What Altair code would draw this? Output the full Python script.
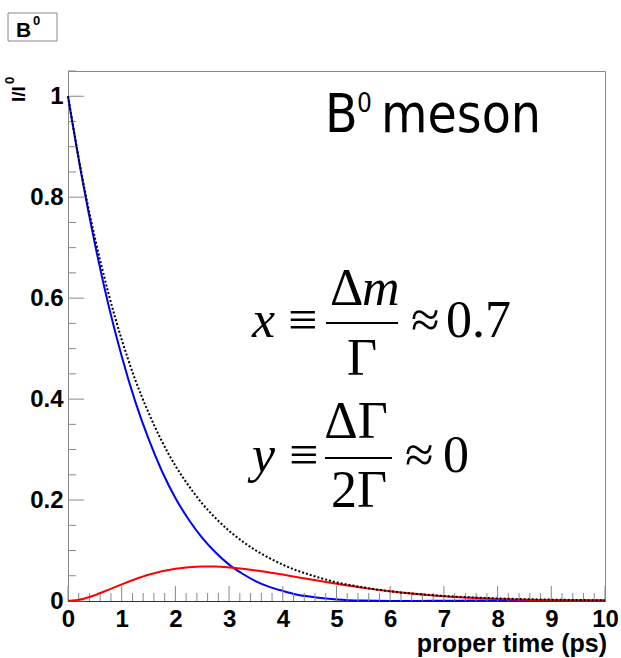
import altair as alt
import pandas as pd

# ---- data ----
t_ps = [0, 0.25, 0.5, 0.75, 1.0, 1.25, 1.5, 1.75, 2.0, 2.25, 2.5, 2.75, 3.0, 3.25,
        3.5, 3.75, 4.0, 4.25, 4.5, 4.75, 5.0, 5.5, 6.0, 6.5, 7.0, 7.5, 8.0, 8.5,
        9.0, 9.5, 10.0]
decay = [1.0, 0.848, 0.720, 0.611, 0.518, 0.439, 0.373, 0.316, 0.268, 0.228, 0.193,
         0.164, 0.139, 0.118, 0.100, 0.085, 0.072, 0.061, 0.052, 0.044, 0.037, 0.027,
         0.019, 0.014, 0.010, 0.0072, 0.0052, 0.0037, 0.0027, 0.0019, 0.0014]
unmixed = [1.0, 0.845, 0.708, 0.588, 0.485, 0.396, 0.321, 0.257, 0.204, 0.161, 0.125,
           0.096, 0.072, 0.054, 0.039, 0.028, 0.020, 0.013, 0.0087, 0.0054, 0.0032,
           0.0008, 0.0, 0.0001, 0.0005, 0.0008, 0.0011, 0.0012, 0.0012, 0.0011, 0.0010]
mixed = [0.0, 0.0034, 0.0116, 0.0221, 0.0330, 0.0431, 0.0520, 0.0589, 0.0639, 0.0671,
         0.0684, 0.0682, 0.0666, 0.0640, 0.0606, 0.0566, 0.0523, 0.0476, 0.0431, 0.0385,
         0.0341, 0.0260, 0.0193, 0.0138, 0.0095, 0.0064, 0.0041, 0.0025, 0.0015, 0.0008,
         0.0004]

x_labels = list(range(0, 11))
y_labels = [0, 0.2, 0.4, 0.6, 0.8, 1.0]
x_minor = [round(i * 0.2, 1) for i in range(51) if i % 5]
y_minor = [round(i * 0.05, 2) for i in range(22) if i % 4]

# ---- layout ----
W, H = 537, 530
L, T = 68, 71
xs = alt.Scale(domain=[0, 10], nice=False, zero=False)
ys = alt.Scale(domain=[0, 1.05], nice=False, zero=False)

df = pd.DataFrame({"t": t_ps, "decay": decay, "unmixed": unmixed, "mixed": mixed})
one = pd.DataFrame({"k": [0]})

SANS = "Liberation Sans"
SERIF = "Liberation Serif"
TICK = "#888888"

x_axis = alt.Axis(values=x_labels, format="d", labelFont=SANS, labelFontWeight="bold",
                  labelFontSize=24, labelColor="black", labelPadding=6, labelFlush=False,
                  ticks=False, tickSize=0, grid=False, domainColor="#333333",
                  domainWidth=1.2, title=None)
y_axis = alt.Axis(values=y_labels, format=".1~f", labelFont=SANS, labelFontWeight="bold",
                  labelFontSize=24, labelColor="black", labelPadding=5, labelFlush=False,
                  ticks=False, tickSize=0, grid=False, domainColor=TICK, title=None)


def X(field):
    return alt.X(field, scale=xs, axis=x_axis)


def Y(field):
    return alt.Y(field, scale=ys, axis=y_axis)


blue = alt.Chart(df).mark_line(color="#0000ff", strokeWidth=2, interpolate="monotone").encode(
    x=X("t:Q"), y=Y("unmixed:Q"))
red = alt.Chart(df).mark_line(color="#ff0000", strokeWidth=2, interpolate="monotone").encode(
    x=X("t:Q"), y=Y("mixed:Q"))
black = alt.Chart(df).mark_line(color="black", strokeWidth=2, strokeDash=[2, 2],
                                interpolate="monotone").encode(
    x=X("t:Q"), y=Y("decay:Q"))

xmaj = alt.Chart(pd.DataFrame({"v": x_labels})).mark_rule(color=TICK).encode(
    x=X("v:Q"), y=alt.value(H), y2=alt.value(H - 15))
xmin = alt.Chart(pd.DataFrame({"v": x_minor})).mark_rule(color=TICK).encode(
    x=X("v:Q"), y=alt.value(H), y2=alt.value(H - 8))
ymaj = alt.Chart(pd.DataFrame({"v": y_labels})).mark_rule(color=TICK).encode(
    y=Y("v:Q"), x=alt.value(0), x2=alt.value(16))
ymin = alt.Chart(pd.DataFrame({"v": y_minor})).mark_rule(color=TICK).encode(
    y=Y("v:Q"), x=alt.value(0), x2=alt.value(8))


def txt(s, px, py, size, font=SANS, align="left", weight="normal", style="normal",
        angle=0, baseline="alphabetic"):
    kw = dict(text=s, align=align, baseline=baseline, font=font, fontSize=size,
              fontWeight=weight, fontStyle=style, color="black")
    if angle:
        kw["angle"] = angle
    return alt.Chart(one).mark_text(**kw).encode(x=alt.value(px - L), y=alt.value(py - T))


def hline(x1, x2, py, w=2, color="black"):
    return alt.Chart(one).mark_rule(color=color, strokeWidth=w).encode(
        x=alt.value(x1 - L), x2=alt.value(x2 - L), y=alt.value(py - T))


title_box = alt.Chart(one).mark_rect(fill="white", stroke=TICK, strokeWidth=1).encode(
    x=alt.value(8 - L), x2=alt.value(57 - L), y=alt.value(13 - T), y2=alt.value(41 - T))

MESON = "DejaVu Sans Condensed, DejaVu Sans"
annots = [
    title_box,
    txt("B", 16, 37, 21, weight="bold"),
    txt("0", 33, 25, 13, weight="bold"),
    # y title (rotated)
    txt("I/I", 25, 102, 19, weight="bold", angle=270),
    txt("0", 14, 84, 13, weight="bold", angle=270),
    # x title
    txt("proper time (ps)", 607, 652, 25, weight="bold", align="right"),
    # B0 meson
    txt("B", 325, 132, 53, font=MESON),
    txt("0", 357, 112, 26, font=MESON),
    txt("meson", 381, 132, 53, font=MESON),
    # formula line 1
    txt("x", 252, 337, 52, font=SERIF, style="italic"),
    txt("\u2261", 288, 337, 52, font=SERIF),
    hline(326, 398, 323),
    txt("\u0394", 330, 305, 52, font=SERIF),
    txt("m", 362, 305, 52, font=SERIF, style="italic"),
    txt("\u0393", 362, 375, 52, font=SERIF, align="center"),
    txt("\u2248", 411, 337, 52, font=SERIF),
    txt("0.7", 446, 337, 52, font=SERIF),
    # formula line 2
    txt("y", 252, 472, 52, font=SERIF, style="italic"),
    txt("\u2261", 289, 472, 52, font=SERIF),
    hline(325, 392, 458),
    txt("\u0394\u0393", 356, 438, 52, font=SERIF, align="center"),
    txt("2\u0393", 359, 507, 52, font=SERIF, align="center"),
    txt("\u2248", 405, 472, 52, font=SERIF),
    txt("0", 443, 472, 52, font=SERIF),
]

chart = alt.layer(blue, xmin, xmaj, ymin, ymaj, red, black, *annots).properties(
    width=W, height=H,
    autosize=alt.AutoSizeParams(type="none"),
    padding={"left": L, "top": T, "right": 621 - L - W, "bottom": 658 - T - H},
    background="white",
).configure_view(stroke=TICK, strokeWidth=1)

chart.save("out.html", embed_options={"renderer": "svg", "actions": False})
